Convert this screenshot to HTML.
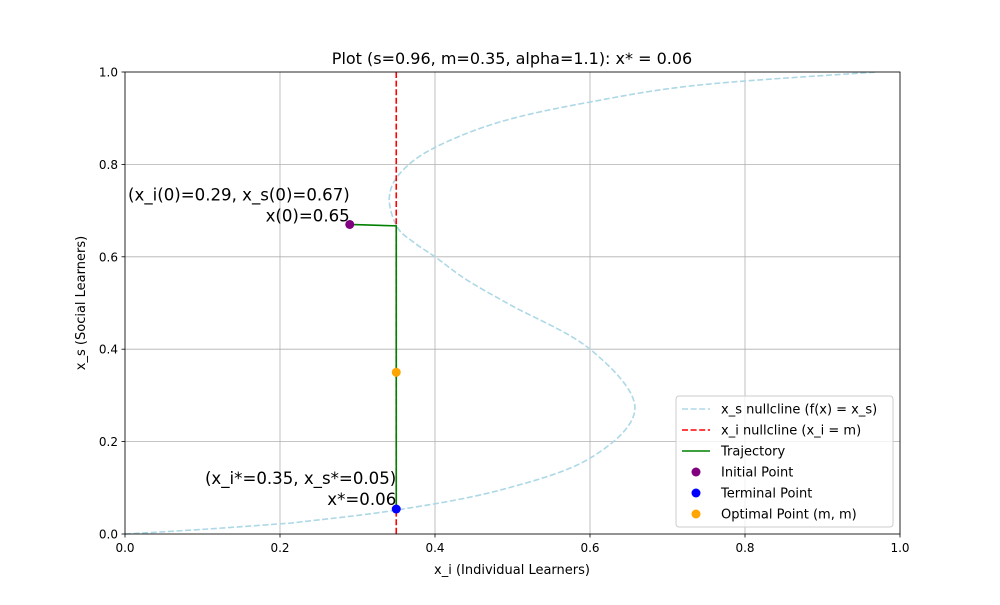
<!DOCTYPE html>
<html><head><meta charset="utf-8"><style>
body{margin:0;background:#fff;font-family:"Liberation Sans","DejaVu Sans",sans-serif}
svg text{font-family:"DejaVu Sans","Liberation Sans",sans-serif}
</style></head><body>
<svg id="chart" width="1000" height="600" xmlns="http://www.w3.org/2000/svg">
<rect width="1000" height="600" fill="#fff"/>
<g id="grid"></g>
<g id="plot"></g>
<g id="axes"></g>
<text x="512" y="64" font-size="16" text-anchor="middle">Plot (s=0.96, m=0.35, alpha=1.1): x* = 0.06</text>
<text x="512" y="574" font-size="13" text-anchor="middle">x_i (Individual Learners)</text>
<text x="0" y="0" font-size="13" text-anchor="middle" transform="translate(85,303) rotate(-90)">x_s (Social Learners)</text>
<g id="legend"></g>
</svg>
<script>
const xTicks=[0,0.2,0.4,0.6,0.8,1.0];
const yTicks=[0,0.2,0.4,0.6,0.8,1.0];
const nullX=[0,0.1,0.2,0.226,0.351,0.484,0.6,0.658,0.6,0.497,0.441,0.4,0.372,0.351,0.341,0.355,0.398,0.484,0.6,0.742,0.97];
const nullY=[0,0.01,0.022,0.026,0.052,0.095,0.164,0.273,0.4,0.496,0.55,0.600,0.632,0.665,0.727,0.781,0.835,0.892,0.935,0.972,1.0];
const m=0.35;
const trajX=[0.29,0.35,0.35];
const trajY=[0.67,0.667,0.054];
const initPt=[0.29,0.67];
const termPt=[0.35,0.054];
const optPt=[0.35,0.35];
const L=125,R=900,T=72,B=534;
const sx=v=>L+v*(R-L), sy=v=>B-v*(B-T);
const NS='http://www.w3.org/2000/svg';
function mk(tag,attrs,parent){const e=document.createElementNS(NS,tag);for(const k in attrs)e.setAttribute(k,attrs[k]);parent.appendChild(e);return e;}
const grid=document.getElementById('grid'),plot=document.getElementById('plot'),axes=document.getElementById('axes'),lg=document.getElementById('legend');
xTicks.forEach(t=>{
 const g=mk('line',{x1:sx(t),x2:sx(t),y1:T,y2:B,stroke:'#b0b0b0','stroke-width':0.8},grid);
 
 
 mk('line',{x1:sx(t),x2:sx(t),y1:B,y2:B+3.5,stroke:'#000','stroke-width':0.8},axes);
 const tx=mk('text',{x:sx(t),y:B+18,'font-size':12,'text-anchor':'middle'},axes);tx.textContent=t.toFixed(1);
 
 
});
yTicks.forEach(t=>{
 const g=mk('line',{x1:L,x2:R,y1:sy(t),y2:sy(t),stroke:'#b0b0b0','stroke-width':0.8},grid);
 
 
 mk('line',{x1:L-3.5,x2:L,y1:sy(t),y2:sy(t),stroke:'#000','stroke-width':0.8},axes);
 const tx=mk('text',{x:L-7,y:sy(t)+4.5,'font-size':12,'text-anchor':'end'},axes);tx.textContent=t.toFixed(1);
 
 
});
mk('rect',{x:L,y:T,width:R-L,height:B-T,fill:'none',stroke:'#000','stroke-width':0.8},axes);
const P=nullX.map((x,i)=>[sx(x),sy(nullY[i])]);
let d='M'+P[0][0]+','+P[0][1];
for(let i=0;i<P.length-1;i++){const p0=P[Math.max(0,i-1)],p1=P[i],p2=P[i+1],p3=P[Math.min(P.length-1,i+2)];
 d+=` C${p1[0]+(p2[0]-p0[0])/6},${p1[1]+(p2[1]-p0[1])/6} ${p2[0]-(p3[0]-p1[0])/6},${p2[1]-(p3[1]-p1[1])/6} ${p2[0]},${p2[1]}`;}
const nc=mk('path',{d:d,fill:'none',stroke:'#add8e6','stroke-width':1.6,'stroke-dasharray':'6,2.6'},plot);


const xi=mk('line',{x1:sx(m),x2:sx(m),y1:T,y2:B,stroke:'#ff0000','stroke-width':1.6,'stroke-dasharray':'6,2.6'},plot);


const tr=mk('polyline',{points:trajX.map((x,i)=>sx(x)+','+sy(trajY[i])).join(' '),fill:'none',stroke:'#008000','stroke-width':1.6},plot);


[[initPt,'#800080','initial-point'],[termPt,'#0000ff','terminal-point'],[optPt,'#ffa500','optimal-point']].forEach(([p,c,n])=>{
 const e=mk('circle',{cx:sx(p[0]),cy:sy(p[1]),r:4.5,fill:c},plot);
 
 
});
function ann(lines,x,y,name){lines.forEach((s,i)=>{const t=mk('text',{x:x,y:y+i*21,'font-size':16.6,'text-anchor':'end'},plot);t.textContent=s;
 
 });}
ann(['(x_i(0)=0.29, x_s(0)=0.67)','x(0)=0.65'],sx(initPt[0]),sy(initPt[1])-24,'initial-annotation');
ann(['(x_i*=0.35, x_s*=0.05)','x*=0.06'],sx(termPt[0]),sy(termPt[1])-25,'terminal-annotation');
mk('rect',{x:676,y:396,width:217,height:131,rx:3,fill:'#fff','fill-opacity':0.8,stroke:'#ccc'},lg);
const items=[['line','#add8e6',true,'x_s nullcline (f(x) = x_s)'],['line','#ff0000',true,'x_i nullcline (x_i = m)'],['line','#008000',false,'Trajectory'],['dot','#800080',0,'Initial Point'],['dot','#0000ff',0,'Terminal Point'],['dot','#ffa500',0,'Optimal Point (m, m)']];
items.forEach((it,i)=>{const y=409+i*21;
 if(it[0]==='line'){const a={x1:682,x2:710,y1:y,y2:y,stroke:it[1],'stroke-width':1.6};if(it[2])a['stroke-dasharray']='6,2.6';mk('line',a,lg);}
 else mk('circle',{cx:696,cy:y,r:4.5,fill:it[1]},lg);
 const t=mk('text',{x:721,y:y+4.5,'font-size':13},lg);t.textContent=it[3];
 
 
});
</script>
</body></html>
